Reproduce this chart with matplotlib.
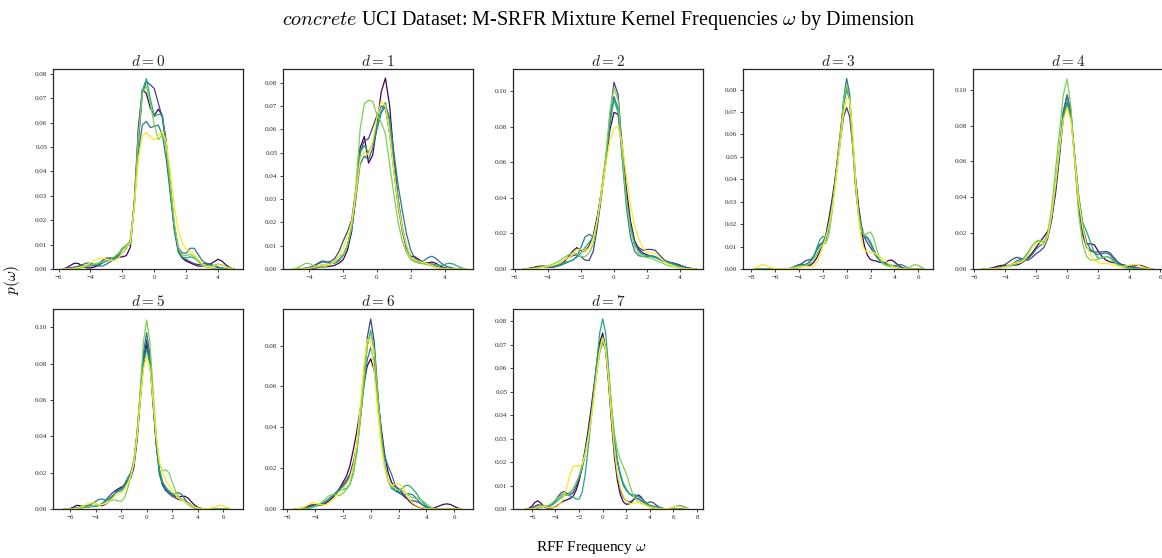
import numpy as np
import matplotlib
matplotlib.use("Agg")
import matplotlib.pyplot as plt
from matplotlib.ticker import MultipleLocator, FormatStrFormatter

plt.rcParams['font.family'] = ['Liberation Serif', 'DejaVu Serif']
plt.rcParams['mathtext.fontset'] = 'cm'

# densities below are listed in units of 1e-3
PER_MILLE = 1e-3

# ---------------- d = 0 ----------------
X_D0 = [-5.75, -5.5, -5.25, -5.0, -4.75, -4.5, -4.25, -4.0, -3.75, -3.5, -3.25, -3.0, -2.75, -2.5, -2.25,
        -2.0, -1.75, -1.5, -1.25, -1.0, -0.75, -0.5, -0.25, 0.0, 0.25, 0.5, 0.75, 1.0, 1.25, 1.5, 1.75,
        2.0, 2.25, 2.5, 2.75, 3.0, 3.25, 3.5, 3.75, 4.0, 4.25, 4.5, 4.75, 5.0]
D0_K0 = [0, 0.5, 1.5, 2.4, 2.2, 1.2, 0.5, 0.4, 0.8, 1.5, 2.5, 3.5, 4.2, 4.6, 4.8, 5.0, 5.5,
         9, 28, 58, 73.5, 72, 66, 63, 65.5, 63, 52, 34, 18, 8,
         4.5, 3.2, 2.5, 1.8, 1.2, 1.2, 1.6, 2.0, 3.0, 4.0, 3.2, 1.6, 0.5, 0]
D0_K1 = [0, 0.2, 0.5, 0.8, 1.0, 1.2, 1.3, 1.2, 1.5, 2.2, 3.5, 4.5, 4.5, 4.5, 6, 8.5, 9.5,
         11, 27, 52, 72, 77, 75.5, 74, 68, 62, 50, 32, 16, 7,
         4.5, 3.8, 3.0, 2.2, 1.8, 2.0, 2.4, 2.0, 1.2, 0.6, 0.3, 0.1, 0, 0]
D0_K2 = [0, 0, 0.2, 0.6, 1.2, 1.8, 2.4, 2.4, 1.8, 1.2, 1.2, 2.0, 3.0, 4.0, 5.0, 6.5, 8.5,
         12, 27, 48, 59, 60.5, 58, 58.5, 59, 55, 45, 31, 17, 9,
         6.5, 6.5, 8.5, 8.5, 6, 3.5, 2.2, 1.8, 1.2, 0.8, 0.4, 0.1, 0, 0]
D0_K3 = [0, 0, 0.1, 0.3, 0.6, 1.0, 1.5, 1.8, 1.8, 2.0, 2.6, 3.2, 3.6, 4.0, 5.5, 8.0, 9.5,
         10, 26, 54, 73, 78, 70, 62.5, 63.5, 63, 51, 33, 17, 8,
         5, 4.5, 5.0, 4.5, 3.2, 2.0, 1.4, 1.2, 1.5, 2.0, 1.6, 0.8, 0.3, 0]
D0_K4 = [0, 0, 0, 0.1, 0.3, 0.6, 1.0, 1.5, 2.0, 2.5, 3.0, 3.5, 4.0, 5.0, 6.5, 8.5, 10,
         11, 27, 55, 72, 75, 68, 59, 53, 55, 50, 35, 19, 9,
         5.5, 5.5, 6.0, 5.0, 3.0, 1.5, 0.8, 0.5, 0.3, 0.1, 0, 0, 0, 0]
D0_K5 = [0, 0, 0.1, 0.3, 0.6, 1.0, 1.6, 2.5, 3.5, 4.3, 4.5, 4.0, 3.5, 3.5, 4.5, 6.5, 9,
         11, 26, 45, 54.5, 56, 54, 53, 54.5, 56.5, 52, 40, 26, 16,
         11, 8, 7, 6, 4, 2.2, 1.2, 0.8, 1.2, 1.8, 1.5, 0.8, 0.3, 0]

# ---------------- d = 1 ----------------
X_D1 = [-5.0, -4.75, -4.5, -4.25, -4.0, -3.75, -3.5, -3.25, -3.0, -2.75, -2.5, -2.25,
        -2.0, -1.75, -1.5, -1.25, -1.0, -0.75, -0.5, -0.25, 0.0, 0.25, 0.5, 0.75, 1.0, 1.25, 1.5, 1.75, 2.0,
        2.25, 2.5, 2.75, 3.0, 3.25, 3.5, 3.75, 4.0, 4.25, 4.5, 4.75, 5.0, 5.25]
D1_K0 = [0, 0, 0, 0.1, 0.2, 0.4, 0.6, 0.8, 1.0, 1.2, 1.6, 2.5,
         4, 8, 16, 32, 52, 57, 45.5, 49, 62, 76, 82, 70, 48, 30, 17, 9, 5.5,
         5.2, 4.0, 2.6, 2.6, 3.0, 2.4, 1.2, 0.5, 0.2, 0.1, 0, 0, 0]
D1_K1 = [0, 0, 0.1, 0.3, 0.6, 1.2, 2.2, 3.0, 3.0, 3.2, 4.5, 7.5,
         12, 16, 21, 34, 50, 55, 56, 61, 66, 70, 69, 58, 42, 27, 16, 9, 5,
         3.5, 2.8, 2.5, 2.2, 1.8, 1.2, 0.6, 0.3, 0.1, 0, 0, 0, 0]
D1_K2 = [0, 0, 0.1, 0.3, 0.7, 1.4, 2.5, 3.5, 3.2, 2.5, 2.5, 3.5,
         6, 10, 17, 30, 45, 48.5, 47, 52, 60, 67, 70, 65, 50, 36, 25, 15, 8,
         4.5, 3.2, 3.5, 4.8, 5.5, 4.5, 2.8, 1.5, 0.8, 0.4, 0.1, 0, 0]
D1_K3 = [0, 0, 0, 0.1, 0.3, 0.7, 1.2, 1.8, 2.0, 2.2, 2.8, 4,
         6, 10, 18, 32, 50, 53, 50, 54, 62, 68, 71.5, 63, 45, 30, 18, 10, 5,
         3.5, 2.6, 2.4, 2.3, 2.2, 1.8, 1.5, 2.0, 2.5, 2.2, 1.3, 0.5, 0]
D1_K4 = [0.1, 0.4, 1.3, 2.4, 2.4, 1.4, 0.8, 0.8, 1.2, 2.0, 3.5, 5.5,
         6.2, 10, 18, 35, 60, 71, 72.5, 72, 66, 63, 58, 45, 32, 20, 12, 7, 4,
         3, 2.5, 2.2, 1.8, 1.2, 0.6, 0.3, 0.1, 0, 0, 0, 0, 0]
D1_K5 = [0, 0, 0, 0.1, 0.3, 0.7, 1.3, 1.8, 1.8, 2.0, 3.0, 5.5,
         9, 14, 20, 32, 47, 50.5, 49, 55, 65, 72, 70, 58, 42, 28, 17, 10, 5,
         3.8, 3.2, 2.8, 2.2, 1.5, 0.8, 0.4, 0.2, 0.1, 0, 0, 0, 0]

# ---------------- d = 2 ----------------
X_D2 = [-5.5, -5.25, -5.0, -4.75, -4.5, -4.25, -4.0, -3.75, -3.5, -3.25, -3.0, -2.75, -2.5, -2.25,
        -2.0, -1.75, -1.5, -1.25, -1.0, -0.75, -0.5, -0.25, 0.0, 0.25, 0.5, 0.75, 1.0, 1.25, 1.5, 1.75,
        2.0, 2.25, 2.5, 2.75, 3.0, 3.25, 3.5, 3.75, 4.0, 4.25, 4.5, 4.75, 5.0]
D2_K0 = [0, 0.2, 0.6, 1.2, 1.6, 1.6, 1.2, 1.0, 1.4, 2.5, 4.0, 7.0, 10, 12, 10.5, 10, 13, 19, 30, 44,
         60, 78, 88, 87, 70, 45, 27, 16, 11, 9, 8, 7.2, 6.5, 5.5, 4.5, 4.0, 3.5, 2.8, 2.0, 1.2,
         0.6, 0.2, 0]
D2_K1 = [0, 0.1, 0.4, 0.8, 1.2, 1.2, 1.0, 1.2, 2.0, 3.5, 5.0, 6.5, 7.5, 8, 7, 5, 4.8, 10, 24, 42,
         60, 85, 105, 98, 68, 40, 24, 15, 12, 10.5, 11, 11, 10.5, 8, 5.5, 4, 3.5, 3, 2.2, 1.2,
         0.5, 0.2, 0]
D2_K2 = [0, 0.1, 0.3, 0.7, 1.2, 1.5, 1.4, 1.2, 1.4, 2.0, 3.0, 4.0, 5, 7, 12, 18, 19.5, 18, 26, 42,
         60, 82, 97, 90, 62, 35, 18, 10, 7.5, 7, 7, 7.5, 7, 5.5, 4.2, 3.8, 3.5, 2.6, 1.6, 0.8,
         0.3, 0.1, 0]
D2_K3 = [0, 0.1, 0.3, 0.6, 1.0, 1.2, 1.2, 1.4, 2.0, 2.8, 3.5, 4.2, 5, 6.5, 9, 12, 15, 18, 27, 44,
         62, 82, 95, 88, 64, 40, 24, 14, 10, 8, 7.5, 7, 6.5, 5.5, 4.5, 3.5, 2.8, 2.0, 1.2, 0.6,
         0.2, 0.1, 0]
D2_K4 = [0, 0, 0.2, 0.5, 0.9, 1.3, 1.8, 2.5, 3.5, 5.0, 6.5, 8.0, 9, 8.5, 7, 7, 9, 14, 27, 45,
         63, 88, 102, 95, 65, 38, 22, 13, 9, 7, 6.5, 6, 5, 4, 3, 2, 1.5, 1.0, 0.6, 0.3,
         0.1, 0, 0]
D2_K5 = [0, 0, 0.1, 0.3, 0.6, 1.0, 1.5, 2.0, 2.6, 3.5, 5.0, 6.5, 8, 11, 11, 10, 12, 17, 28, 43,
         58, 72, 79, 80, 70, 52, 36, 24, 17, 12, 9.5, 9, 8.5, 6.5, 4.5, 3, 2, 1.2, 0.6, 0.3,
         0.1, 0, 0]

# ---------------- d = 3 ----------------
X_D3 = [-7.75, -7.5, -7.25, -7.0, -6.75, -6.5, -6.25, -6.0, -5.75, -5.5, -5.25, -5.0,
        -4.75, -4.5, -4.25, -4.0, -3.75, -3.5, -3.25, -3.0, -2.75, -2.5, -2.25, -2.0, -1.75, -1.5,
        -1.25, -1.0, -0.75, -0.5, -0.25, 0.0, 0.25, 0.5, 0.75, 1.0, 1.25, 1.5, 1.75, 2.0, 2.25,
        2.5, 2.75, 3.0, 3.25, 3.5, 3.75, 4.0, 4.25, 4.5, 4.75, 5.0, 5.25, 5.5, 5.75, 6.0, 6.25, 6.5]
D3_K0 = [0, 0, 0, 0, 0, 0, 0, 0, 0, 0, 0, 0,
         0.2, 0.4, 0.8, 1.3, 1.8, 1.8, 1.5, 1.8, 3.0, 5.0, 8.0, 11, 15, 22, 30, 39, 50, 62, 74, 81,
         76, 58, 40, 27, 17, 10, 6, 4.2, 3.8, 3.5, 3.0, 2.8, 3.0, 3.8, 4.0, 3.2, 2.0, 1.0, 0.4,
         0.1, 0, 0, 0, 0, 0, 0]
D3_K1 = [0, 0, 0, 0, 0, 0, 0, 0, 0, 0, 0, 0,
         0.1, 0.3, 0.8, 1.5, 2.5, 3.5, 4.0, 4.2, 5.5, 8.5, 11, 11.5, 13, 19, 27, 37, 48, 58, 68, 72,
         68, 55, 40, 28, 19, 14, 11.5, 9.5, 7.5, 5.5, 4, 3.0, 2.4, 2.0, 1.6, 1.2, 0.7, 0.3, 0.1,
         0, 0, 0, 0, 0, 0, 0]
D3_K2 = [0, 0, 0, 0, 0, 0, 0, 0, 0, 0, 0, 0,
         0.3, 0.8, 1.5, 2.0, 2.2, 2.0, 2.5, 4.0, 6.0, 8.5, 10.5, 12, 14.5, 20, 28, 37, 48, 60, 76, 85,
         78, 56, 36, 24, 17, 15, 14, 12, 9, 6, 4, 3.0, 2.5, 2.0, 1.6, 1.5, 1.8, 2.0, 1.6,
         0.8, 0.3, 0.1, 0, 0, 0, 0]
D3_K3 = [0, 0, 0, 0, 0, 0, 0, 0, 0, 0, 0, 0,
         0.1, 0.3, 0.8, 1.4, 1.6, 1.4, 1.6, 3.0, 5.5, 9.5, 13, 14.5, 14, 17, 26, 37, 49, 61, 74, 80,
         75, 57, 38, 25, 17, 14.5, 13.5, 11, 8, 5.5, 3.8, 2.8, 2.2, 1.8, 1.6, 1.2, 0.8, 0.4, 0.1,
         0, 0, 0, 0, 0, 0, 0]
D3_K4 = [0, 0, 0, 0, 0, 0, 0, 0, 0, 0, 0, 0,
         0, 0.1, 0.3, 0.6, 1.0, 1.4, 2.0, 3.0, 4.5, 6.5, 9.0, 11, 11.5, 15, 24, 36, 49, 62, 76, 82,
         75, 55, 36, 24, 17, 15, 16, 16.5, 14, 9, 5, 2.5, 1.5, 1.2, 1.0, 0.8, 0.5, 0.3, 0.2,
         0.3, 0.8, 1.5, 2.0, 1.6, 0.8, 0.2]
D3_K5 = [0.2, 0.8, 1.6, 2.0, 1.6, 0.9, 0.4, 0.2, 0.1, 0.05, 0.05, 0.1,
         0.2, 0.4, 0.7, 1.0, 1.2, 1.2, 1.0, 1.0, 1.5, 3.0, 6.0, 10, 14, 19, 26, 35, 46, 58, 70, 76,
         76, 62, 40, 22, 12, 8.5, 7.5, 7.5, 7.5, 6.5, 5.5, 4.5, 3.5, 2.5, 1.5, 0.8, 0.4, 0.2, 0.1,
         0, 0, 0, 0, 0, 0, 0]

# ---------------- d = 4 ----------------
X_D4 = [-5.5, -5.25, -5.0, -4.75, -4.5, -4.25, -4.0, -3.75, -3.5, -3.25, -3.0, -2.75, -2.5, -2.25,
        -2.0, -1.75, -1.5, -1.25, -1.0, -0.75, -0.5, -0.25, 0.0, 0.25, 0.5, 0.75, 1.0, 1.25, 1.5, 1.75,
        2.0, 2.25, 2.5, 2.75, 3.0, 3.25, 3.5, 3.75, 4.0, 4.25, 4.5, 4.75, 5.0, 5.25, 5.5]
D4_K0 = [0, 0.1, 0.3, 0.8, 1.5, 2.0, 2.0, 2.0, 2.0, 2.2, 3.0, 4.5, 6.5, 9, 12,
         15, 18, 21, 28, 42, 62, 84, 93, 85, 60, 35, 20, 14, 14, 13.5,
         10, 7, 5.0, 4.0, 3.5, 3.0, 2.5, 2.0, 1.6, 1.6, 2.0, 2.0, 1.2, 0.4, 0.1]
D4_K1 = [0, 0.1, 0.2, 0.4, 0.8, 1.5, 2.5, 4.0, 5.5, 6.5, 6.0, 5.0, 5.0, 6.5, 8.5,
         10, 12, 17, 27, 44, 65, 87, 97, 87, 60, 34, 19, 12, 10, 9.5,
         9.5, 9.5, 9.8, 9, 6.5, 4.0, 2.5, 1.8, 1.3, 1.0, 0.7, 0.4, 0.2, 0.1, 0]
D4_K2 = [0, 0, 0.1, 0.3, 0.6, 1.0, 1.5, 2.0, 3.0, 4.5, 5.5, 5.5, 6.0, 8.0, 11,
         13, 14, 18, 29, 46, 66, 88, 97, 86, 62, 40, 24, 15, 11, 9,
         8, 8.5, 9.0, 8.0, 5.5, 3.2, 1.8, 1.0, 0.6, 0.4, 0.2, 0.1, 0, 0, 0]
D4_K3 = [0, 0, 0.1, 0.2, 0.5, 0.8, 1.2, 1.8, 2.5, 3.2, 4.5, 6.5, 9.5, 13, 15,
         16, 15, 19, 30, 47, 66, 85, 93, 84, 62, 40, 26, 21, 15, 9,
         6, 6, 7, 6.5, 4.5, 2.8, 1.8, 1.2, 0.8, 0.5, 0.3, 0.1, 0, 0, 0]
D4_K4 = [0, 0, 0, 0.1, 0.3, 0.6, 1.0, 1.5, 2.0, 2.8, 4.0, 6.0, 9.0, 12.5, 15.5,
         16, 15, 20, 34, 55, 76, 97, 106, 90, 58, 30, 14, 7, 5, 5,
         5.5, 6.5, 7, 6, 4, 2.2, 1.2, 0.6, 0.3, 0.1, 0, 0, 0, 0, 0]
D4_K5 = [0, 0, 0.1, 0.2, 0.4, 0.7, 1.2, 2.0, 3.0, 3.5, 3.5, 5.0, 8.0, 12, 14.5,
         15, 13.5, 18, 30, 47, 66, 83, 90, 82, 60, 38, 23, 13, 8, 5,
         3.5, 3.0, 3.0, 2.8, 2.2, 1.6, 1.4, 1.6, 2.2, 2.5, 2.3, 1.5, 0.7, 0.2, 0]

# ---------------- d = 5 ----------------
X_D5 = [-6.5, -6.25, -6.0, -5.75, -5.5, -5.25, -5.0, -4.75, -4.5, -4.25, -4.0, -3.75, -3.5, -3.25,
        -3.0, -2.75, -2.5, -2.25, -2.0, -1.75, -1.5, -1.25, -1.0, -0.75, -0.5, -0.25, 0.0, 0.25, 0.5,
        0.75, 1.0, 1.25, 1.5, 1.75, 2.0, 2.25, 2.5, 2.75, 3.0, 3.25, 3.5, 3.75, 4.0, 4.25, 4.5, 4.75,
        5.0, 5.25, 5.5, 5.75, 6.0, 6.25, 6.5]
D5_K0 = [0, 0, 0.3, 1.0, 2.0, 1.8, 1.2, 1.0, 1.2, 1.6, 2.0, 2.0, 1.8, 2.5, 4.0, 6.0, 8.5, 11, 12, 13,
         15.5, 17, 23, 38, 60, 80, 90, 80, 58, 36, 21, 14, 11, 9, 8, 7, 6.5, 7, 7, 6,
         4, 2.2, 1.0, 0.4, 0.1, 0, 0, 0, 0, 0, 0, 0, 0]
D5_K1 = [0, 0, 0, 0.2, 0.5, 1.0, 1.5, 1.8, 1.6, 1.4, 1.5, 2.0, 3.0, 4.5, 6.5, 8.5, 10, 11, 11, 12,
         15, 19, 25, 40, 62, 83, 93, 82, 60, 37, 21, 13, 10, 8.5, 7, 6, 5.2, 5, 4.5, 3.5,
         2.2, 1.2, 0.5, 0.2, 0.1, 0, 0, 0, 0, 0, 0, 0, 0]
D5_K2 = [0, 0, 0, 0.1, 0.3, 0.6, 1.0, 1.5, 2.2, 3.0, 4.2, 5.3, 5.5, 5.0, 5.0, 6.5, 8.5, 10, 11, 13.5,
         17, 20, 26, 42, 64, 86, 97, 85, 60, 35, 19, 13, 11, 9, 8, 8.5, 9, 8, 5.5, 3,
         1.5, 0.7, 0.3, 0.1, 0, 0, 0, 0, 0, 0, 0, 0, 0]
D5_K3 = [0, 0, 0.1, 0.3, 0.7, 1.2, 1.6, 1.6, 1.4, 1.3, 1.5, 2.0, 2.8, 4.0, 5.5, 7.0, 8.5, 9.5, 10, 12,
         15, 19, 27, 42, 62, 80, 88, 80, 60, 38, 22, 15, 12, 10, 8.5, 7.5, 6.5, 5.5, 4, 2.5,
         1.4, 0.7, 0.3, 0.1, 0, 0, 0, 0, 0, 0, 0, 0, 0]
D5_K4 = [0, 0, 0, 0, 0.1, 0.3, 0.6, 1.0, 1.4, 1.8, 2.0, 2.0, 2.2, 2.8, 3.8, 4.8, 5.0, 4.5, 4.2, 6,
         11, 18, 26, 42, 66, 92, 104, 92, 66, 40, 25, 21, 21.5, 20, 15, 10, 7, 5.5, 4.0, 2.5,
         1.4, 0.6, 0.2, 0.1, 0, 0, 0, 0, 0, 0, 0, 0, 0]
D5_K5 = [0, 0, 0, 0.1, 0.3, 0.8, 1.5, 2.5, 3.2, 3.5, 3.0, 2.5, 2.5, 3.0, 4.0, 5.5, 7.0, 8.0, 9.0, 11,
         14, 18, 25, 40, 60, 77, 84, 78, 60, 40, 26, 20, 16, 13, 10, 8, 6, 5, 4, 3,
         2, 1.2, 0.6, 0.3, 0.2, 0.2, 0.4, 0.9, 1.6, 2.0, 1.7, 1.0, 0.3]

# ---------------- d = 6 ----------------
X_D6 = [-5.5, -5.25, -5.0, -4.75, -4.5, -4.25, -4.0, -3.75, -3.5, -3.25, -3.0, -2.75, -2.5, -2.25,
        -2.0, -1.75, -1.5, -1.25, -1.0, -0.75, -0.5, -0.25, 0.0, 0.25, 0.5, 0.75, 1.0, 1.25, 1.5, 1.75,
        2.0, 2.25, 2.5, 2.75, 3.0, 3.25, 3.5, 3.75, 4.0, 4.25, 4.5, 4.75, 5.0, 5.25, 5.5, 5.75, 6.0,
        6.25, 6.5]
D6_K0 = [0, 0.1, 0.3, 0.8, 1.5, 2.0, 2.0, 1.8, 2.0, 2.8, 4.0, 5.5, 7.5, 10, 13, 16, 21, 29, 38, 49,
         61, 70, 73.5, 68, 55, 40, 27, 18, 13, 11, 10, 8, 6, 4, 2.5, 1.5, 0.8, 0.4, 0.3, 0.3,
         0.5, 1.0, 1.7, 2.3, 2.5, 2.2, 1.3, 0.5, 0.1]
D6_K1 = [0, 0, 0.2, 0.5, 1.0, 1.5, 1.8, 2.0, 2.5, 3.5, 5.0, 6.5, 8, 10, 12, 14, 17, 23, 31, 45,
         62, 84, 93, 82, 58, 36, 21, 14, 11, 9, 8, 7, 5.5, 4.5, 4.0, 3.8, 3.0, 2.0, 1.0, 0.4,
         0.1, 0, 0, 0, 0, 0, 0, 0, 0]
D6_K2 = [0, 0, 0.1, 0.3, 0.6, 1.0, 1.5, 2.0, 2.8, 3.8, 5.0, 6.5, 8, 9.5, 11, 13, 16, 21, 30, 44,
         59, 73, 79, 72, 56, 38, 26, 21, 17, 12, 8.5, 7, 7, 7.5, 7, 5.5, 3.5, 1.8, 0.8, 0.3,
         0.1, 0, 0, 0, 0, 0, 0, 0, 0]
D6_K3 = [0, 0, 0.1, 0.2, 0.4, 0.8, 1.2, 1.8, 2.5, 3.5, 5.0, 6.5, 8, 9.0, 9.5, 10, 12, 18, 28, 44,
         62, 80, 87.5, 78, 56, 36, 22, 14, 10, 9, 9, 10, 11.5, 11.5, 10, 8, 5.5, 3.2, 1.6, 0.7,
         0.3, 0.1, 0, 0, 0, 0, 0, 0, 0]
D6_K4 = [0, 0, 0, 0.1, 0.3, 0.7, 1.3, 2.2, 3.5, 5.0, 6.5, 7.0, 7.0, 6.5, 7.5, 9.5, 12, 17, 27, 43,
         62, 80, 86, 78, 56, 35, 21, 14, 11, 10, 9.5, 9, 8, 6.5, 5.5, 5.0, 5.0, 4.0, 2.5, 1.2,
         0.5, 0.1, 0, 0, 0, 0, 0, 0, 0]
D6_K5 = [0, 0.1, 0.4, 1.0, 2.0, 3.0, 3.0, 2.5, 2.0, 2.0, 3.0, 4.5, 6, 8, 10, 12, 15, 21, 32, 50,
         70, 83, 82, 68, 48, 31, 20, 14, 11.5, 12, 12.5, 11, 8, 5, 3, 1.8, 1.0, 0.5, 0.2, 0.1,
         0, 0, 0, 0, 0, 0, 0, 0, 0]

# ---------------- d = 7 ----------------
X_D7 = [-6.5, -6.25, -6.0, -5.75, -5.5, -5.25, -5.0, -4.75, -4.5, -4.25, -4.0, -3.75, -3.5, -3.25,
        -3.0, -2.75, -2.5, -2.25, -2.0, -1.75, -1.5, -1.25, -1.0, -0.75, -0.5, -0.25, 0.0, 0.25, 0.5,
        0.75, 1.0, 1.25, 1.5, 1.75, 2.0, 2.25, 2.5, 2.75, 3.0, 3.25, 3.5, 3.75, 4.0, 4.25, 4.5, 4.75,
        5.0, 5.25, 5.5, 5.75, 6.0, 6.25, 6.5, 6.75, 7.0, 7.25]
D7_K0 = [0, 0.3, 1.2, 2.8, 3.5, 2.5, 1.2, 0.5, 0.3, 0.5, 1.0, 1.8, 2.8, 3.5, 4.0, 4.5, 5.5, 8, 12, 18,
         25, 33, 42, 52, 62, 71, 75, 68, 54, 37, 22, 12, 6, 3, 2, 2.2, 3.2, 5, 6, 5.2,
         3.5, 2.0, 1.0, 0.4, 0.1, 0, 0, 0, 0, 0, 0, 0, 0, 0, 0, 0]
D7_K1 = [0, 0.1, 0.5, 1.2, 1.8, 1.6, 1.0, 0.8, 1.2, 2.2, 3.8, 5.5, 7.0, 7.5, 6.5, 6.0, 7.0, 9.5, 13, 17,
         23, 31, 40, 51, 61, 70, 74, 68, 54, 38, 24, 14, 8, 5, 3.5, 3, 3.5, 4.5, 4.5, 3.5,
         2.6, 2.5, 3.0, 2.8, 1.8, 0.9, 0.4, 0.1, 0, 0, 0, 0, 0, 0, 0, 0]
D7_K2 = [0, 0, 0.2, 0.6, 1.2, 1.5, 1.2, 1.0, 1.3, 2.2, 3.5, 5.0, 6.0, 6.5, 6.5, 7.0, 8.5, 11, 14, 18,
         24, 31, 39, 49, 59, 67, 71, 68, 57, 42, 29, 20, 14, 10, 8, 6.5, 6, 6, 5.5, 4.5,
         3.2, 2.2, 1.6, 1.3, 1.0, 0.6, 0.3, 0.1, 0.1, 0.3, 0.7, 1.2, 1.5, 1.2, 0.6, 0.2]
D7_K3 = [0, 0, 0.1, 0.3, 0.6, 1.0, 1.2, 1.2, 1.2, 1.8, 2.8, 4.0, 5.0, 5.8, 6.0, 5.5, 5.0, 4.3, 4.2, 7,
         14, 25, 37, 50, 63, 75, 81, 75, 60, 43, 30, 21, 15, 11, 8.5, 6.5, 5.5, 5.5, 5.5, 4.8,
         3.5, 2.2, 1.4, 1.0, 0.8, 0.5, 0.2, 0.1, 0, 0, 0, 0, 0, 0, 0, 0]
D7_K4 = [0, 0, 0, 0.1, 0.3, 0.6, 1.0, 1.3, 1.8, 2.6, 3.8, 5.0, 6.0, 6.2, 6.0, 6.5, 8.5, 11, 14, 18,
         23, 30, 38, 48, 58, 67, 72, 69, 58, 44, 32, 25, 21, 18, 15, 11, 7, 4.5, 3.2, 2.5,
         2.0, 1.6, 1.2, 0.9, 0.6, 0.3, 0.1, 0, 0, 0, 0, 0, 0, 0, 0, 0]
D7_K5 = [0, 0, 0.1, 0.4, 0.9, 1.3, 1.2, 0.8, 0.5, 0.5, 0.8, 1.5, 3, 6, 10, 15, 18, 18.5, 18, 19,
         23, 29, 37, 47, 58, 68, 73, 68, 55, 39, 25, 15, 9, 5.5, 3.5, 2.5, 2.2, 2.5, 3.0, 2.8,
         2.0, 1.2, 0.7, 0.4, 0.2, 0.1, 0.1, 0.1, 0.2, 0.4, 0.8, 1.2, 1.2, 0.8, 0.3, 0.1]

PANEL_TITLES = [r"$d = 0$", r"$d = 1$", r"$d = 2$", r"$d = 3$",
                r"$d = 4$", r"$d = 5$", r"$d = 6$", r"$d = 7$"]
PANEL_X = [X_D0, X_D1, X_D2, X_D3, X_D4, X_D5, X_D6, X_D7]
PANEL_CURVES = [
    [D0_K0, D0_K1, D0_K2, D0_K3, D0_K4, D0_K5],
    [D1_K0, D1_K1, D1_K2, D1_K3, D1_K4, D1_K5],
    [D2_K0, D2_K1, D2_K2, D2_K3, D2_K4, D2_K5],
    [D3_K0, D3_K1, D3_K2, D3_K3, D3_K4, D3_K5],
    [D4_K0, D4_K1, D4_K2, D4_K3, D4_K4, D4_K5],
    [D5_K0, D5_K1, D5_K2, D5_K3, D5_K4, D5_K5],
    [D6_K0, D6_K1, D6_K2, D6_K3, D6_K4, D6_K5],
    [D7_K0, D7_K1, D7_K2, D7_K3, D7_K4, D7_K5],
]

# ---------------- layout / style ----------------
W_PX, H_PX = 1162, 558
COL_LEFT = [53, 283, 513, 743, 973]
ROW_TOP = [69, 309]
AX_W, AX_H = 190, 200
XLIMS = [(-6.35, 5.56), (-5.56, 5.68), (-6.11, 5.39), (-8.68, 7.23),
         (-6.06, 6.17), (-7.35, 7.56), (-6.31, 7.36), (-7.6, 8.5)]
YMAX = [0.0820, 0.0859, 0.1124, 0.0892, 0.1115, 0.1100, 0.0979, 0.0852]
YSTEP = [0.01, 0.01, 0.02, 0.01, 0.02, 0.02, 0.02, 0.01]
DARK = '#262626'

colors = plt.cm.viridis(np.linspace(0, 1, 6))

fig = plt.figure(figsize=(W_PX / 100, H_PX / 100), dpi=100)

for i in range(8):
    r, c = divmod(i, 5)
    left = COL_LEFT[c] / W_PX
    bottom = 1 - (ROW_TOP[r] + AX_H) / H_PX
    ax = fig.add_axes([left, bottom, AX_W / W_PX, AX_H / H_PX])
    xs = PANEL_X[i]
    for k, ys in enumerate(PANEL_CURVES[i]):
        if len(ys) != len(xs):
            raise ValueError(f"panel {i} curve {k}: {len(ys)} vs {len(xs)}")
        ax.plot(xs, np.asarray(ys) * PER_MILLE, color=colors[k], lw=0.9, solid_capstyle='round')
    ax.set_xlim(*XLIMS[i])
    ax.set_ylim(0, YMAX[i])
    ax.xaxis.set_major_locator(MultipleLocator(2))
    ax.yaxis.set_major_locator(MultipleLocator(YSTEP[i]))
    ax.yaxis.set_major_formatter(FormatStrFormatter('%.2f'))
    ax.tick_params(axis='both', which='major', direction='out', length=2.5, width=0.6,
                   color=DARK, labelsize=5, labelcolor=DARK, pad=1.5)
    for sp in ax.spines.values():
        sp.set_color(DARK)
        sp.set_linewidth(0.9)
    ax.set_title(PANEL_TITLES[i], fontsize=11, pad=2, color=DARK)

fig.text(0.515, 1 - 20 / H_PX,
         r"$\mathit{concrete}$ UCI Dataset: M-SRFR Mixture Kernel Frequencies $\omega$ by Dimension",
         ha='center', va='center', fontsize=14.5, color='black')
fig.text(12 / W_PX, 1 - 280 / H_PX, r"$p(\omega)$", rotation=90, ha='center', va='center',
         fontsize=11, color='black')
fig.text(591 / W_PX, 1 - 547 / H_PX, r"RFF Frequency $\omega$", ha='center', va='center',
         fontsize=11, color='black')

fig.savefig("out.png", dpi=100)
